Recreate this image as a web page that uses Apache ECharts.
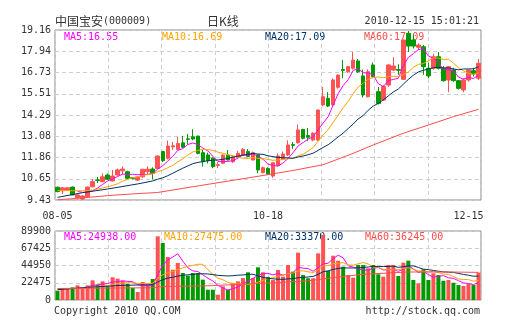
<!DOCTYPE html>
<html><head><meta charset="utf-8">
<script src="https://cdn.jsdelivr.net/npm/echarts@6/dist/echarts.min.js"></script>
<style>html,body{margin:0;padding:0;background:#fff;}#c{width:505px;height:330px;}</style>
</head><body><div id="c"></div>
<script>
const dates = ['08-05','08-06','08-09','08-10','08-11','08-12','08-13','08-16','08-17','08-18','08-19','08-20','08-23','08-24','08-25','08-26','08-27','08-30','08-31',
'09-01','09-02','09-03','09-06','09-07','09-08','09-09','09-10','09-13','09-14','09-15','09-16','09-17','09-27','09-28','09-29','09-30',
'10-08','10-11','10-12','10-13','10-14','10-15','10-18','10-19','10-20','10-21','10-22','10-25','10-26','10-27','10-28','10-29',
'11-01','11-02','11-03','11-04','11-05','11-08','11-09','11-10','11-11','11-12','11-15','11-16','11-17','11-18','11-19','11-22','11-23','11-24','11-25','11-26','11-29','11-30',
'12-01','12-02','12-03','12-06','12-07','12-08','12-09','12-10','12-13','12-14','12-15'];

const opens = [10.16,9.96,10.00,10.17,9.56,9.49,9.62,10.19,10.58,10.48,
10.86,10.52,10.86,11.10,11.05,10.70,10.57,10.76,11.05,11.20,
11.24,12.20,11.82,12.47,12.33,12.70,12.93,13.05,13.09,12.14,
12.01,11.82,11.41,11.53,12.00,11.62,11.87,12.00,12.20,11.72,
12.01,11.00,11.24,10.80,11.40,11.78,12.01,12.60,12.71,13.47,
13.12,12.86,12.86,14.87,15.25,14.87,15.88,16.90,16.77,16.97,
17.39,16.53,15.34,17.16,15.63,15.15,16.01,16.87,16.90,16.34,
18.97,18.59,18.17,18.20,16.97,16.97,17.63,16.97,16.30,16.87,
16.26,15.73,16.30,16.83,16.40];
const closes = [9.91,10.13,10.13,9.72,9.72,9.66,10.17,10.48,10.55,10.76,
10.62,10.80,11.15,11.20,10.67,10.67,10.73,11.19,11.19,10.96,
11.95,11.68,12.52,12.53,12.67,12.45,12.90,12.92,12.10,11.62,
11.68,11.34,11.45,12.00,11.72,11.90,12.10,12.33,11.92,12.14,
11.15,11.28,10.92,11.56,11.95,12.06,12.58,12.56,13.44,12.96,
13.02,13.25,14.58,15.34,14.81,16.30,16.58,16.85,17.06,17.44,
16.77,15.44,16.77,16.49,14.96,15.92,17.16,17.10,16.85,18.59,
18.24,18.24,18.30,17.06,16.53,17.63,16.97,16.26,17.06,16.26,
15.82,16.30,16.87,16.64,17.25];
const lows = [9.88,9.77,9.97,9.70,9.46,9.43,9.55,10.15,10.40,10.45,
10.60,10.50,10.83,10.90,10.62,10.60,10.52,10.70,10.90,10.60,
11.20,11.60,11.75,12.30,12.30,12.40,12.60,12.85,12.05,11.34,
11.52,11.25,11.25,11.50,11.70,11.55,11.80,11.95,11.90,11.70,
10.96,10.95,10.87,10.70,11.35,11.75,11.95,12.35,12.65,12.90,
12.80,12.80,12.80,14.80,14.75,14.80,15.80,16.40,16.70,16.90,
16.70,15.30,15.30,16.40,14.90,15.10,15.90,16.80,16.60,16.30,
17.90,18.10,18.00,16.60,16.40,16.90,16.90,16.20,15.60,16.20,
15.75,15.60,16.20,16.50,16.30];
const highs = [10.20,10.16,10.17,10.20,9.75,9.70,10.20,10.63,10.75,10.95,
10.95,11.15,11.23,11.35,11.10,10.72,10.78,11.20,11.35,11.30,
11.97,12.25,12.83,12.75,13.05,13.10,13.20,13.48,13.10,12.30,
12.14,11.90,11.60,12.05,12.29,12.00,12.25,12.40,12.35,12.20,
12.05,11.35,11.30,11.58,12.10,12.20,12.85,12.75,13.75,13.50,
13.55,13.30,14.60,15.90,15.60,16.40,16.60,17.45,17.10,17.90,
17.50,16.90,16.90,17.30,15.90,16.00,17.20,17.60,17.20,18.60,
19.10,18.90,18.40,18.30,17.30,17.80,17.90,17.10,17.10,17.00,
16.30,16.40,16.90,17.00,17.50];

const volumes = [12100,15600,14300,16500,19100,14800,19100,25600,20000,24300,
17800,29600,27800,25200,20900,15600,10400,23500,20000,27400,
83000,74300,56000,39500,48200,35200,31700,35200,35200,26500,
13400,13400,6900,17800,13400,22100,24300,28700,36100,28700,
42600,36100,30000,26000,39100,30400,45600,36900,61600,32600,
28300,28300,60800,84700,37800,57700,51200,43400,32600,29100,
45600,45600,41300,45600,33500,30400,45600,45600,31300,48600,
51200,26100,21800,40000,26100,34800,32600,25100,26100,22500,
19500,18200,20800,19500,35600];

const ma5 = [null,null,null,null,9.92,9.87,9.88,9.95,10.12,10.32,10.52,10.64,10.78,10.91,10.89,10.90,10.88,10.89,10.89,10.95,
11.20,11.39,11.66,11.93,12.27,12.37,12.61,12.69,12.61,12.40,12.24,11.93,11.64,11.62,11.64,11.68,11.83,12.01,11.99,12.08,
11.93,11.76,11.48,11.41,11.37,11.55,11.81,12.14,12.52,12.72,12.91,13.05,13.45,13.83,14.20,14.86,15.52,15.98,16.32,16.85,
16.94,16.71,16.70,16.58,16.09,15.92,16.26,16.33,16.40,17.12,17.59,17.80,18.04,18.09,17.67,17.55,17.30,16.89,16.89,16.84,
16.47,16.34,16.46,16.38,16.58];
const ma10 = [9.97,9.97,9.97,9.96,9.96,9.96,9.97,10.00,10.05,10.12,10.19,10.26,10.36,10.51,10.61,10.71,10.76,10.83,10.90,10.92,
11.05,11.14,11.28,11.41,11.61,11.79,12.00,12.18,12.27,12.33,12.31,12.27,12.17,12.11,12.02,11.96,11.88,11.82,11.81,11.86,
11.81,11.80,11.75,11.70,11.73,11.74,11.79,11.81,11.96,12.05,12.23,12.43,12.80,13.17,13.46,13.88,14.28,14.71,15.08,15.52,
15.90,16.12,16.34,16.45,16.47,16.43,16.49,16.51,16.49,16.61,16.75,17.03,17.19,17.24,17.40,17.57,17.55,17.47,17.49,17.26,
17.01,16.82,16.68,16.63,16.71];
const ma20 = [9.58,null,null,null,null,9.85,null,null,null,null,10.06,null,null,null,null,null,10.35,null,null,10.52,
10.62,10.70,10.82,10.96,11.11,11.25,11.38,11.51,11.58,11.63,11.68,11.71,11.72,11.76,11.81,11.88,11.94,12.00,12.04,12.10,
12.06,12.04,11.96,11.91,11.87,11.85,11.84,11.82,11.89,11.95,12.02,12.11,12.27,12.44,12.59,12.81,13.04,13.26,13.52,13.78,
14.07,14.27,14.57,14.81,14.96,15.16,15.39,15.61,15.78,16.06,16.33,16.57,16.76,16.85,16.93,17.00,17.02,16.99,16.99,16.93,
16.88,16.93,16.93,16.94,17.05];
const ma60 = [[0,9.44],[5,9.55],[10,9.68],[15,9.78],[20,9.86],[27,10.19],[36,10.60],[42,10.88],[47,11.12],[53,11.45],
[59,12.10],[63,12.58],[69,13.25],[74,13.72],[79,14.20],[84,14.62]];

const vma5 = [null,null,null,null,15520,16060,16760,19020,19720,20760,21360,23460,23900,24940,24260,23820,19980,19120,18080,19380,
32860,45640,52140,56040,60200,50640,42120,37960,37100,32760,28400,24740,19080,15600,12980,14720,16900,21260,24920,27980,
32080,34440,34700,32680,34760,32320,34220,35600,42720,41420,41000,37540,42320,46940,47980,53860,58440,54960,44540,42800,
40380,39260,38840,41440,42320,39280,39280,40140,37280,40300,44460,40560,35800,37540,33040,29760,31060,31720,28940,28220,
25160,22280,21420,20100,22720];
const vma10 = [14300,null,null,null,null,15600,null,null,null,18140,18710,20110,21460,22330,22510,22590,21720,21510,21510,21820,
28340,32810,35630,37060,39790,41750,43880,45050,46570,46480,39520,33430,28520,26350,22870,21560,20820,20170,20260,20480,
23400,25670,27980,28800,31370,32200,34330,35150,37700,38090,36660,35880,38960,44830,44700,47430,47990,48640,45740,45390,
47120,48850,46900,42990,42560,39830,39270,39490,39360,41310,41870,39920,37970,37410,36670,37110,35810,33760,33240,30630,
27460,26670,26570,24520,25470];
const vma20 = [13400,null,null,null,null,null,16500,null,null,null,null,null,null,19100,null,null,null,null,null,19980,
23525,26460,28545,29695,31150,32170,32800,33280,34040,34150,33930,33120,32075,31705,31330,31655,32350,32610,33415,33480,
31460,29550,28250,27575,27120,26880,27575,27660,28980,29285,30030,30775,33470,36815,38035,39815,41160,41895,41720,41740,
41890,42365,42930,43910,43630,43630,43630,44065,42550,43350,44495,44385,42435,40200,39615,38470,37540,36625,36300,35970,
34665,33295,32270,30965,31070];
const vma60 = [[0,15000],[19,16000],[21,17500],[30,18500],[42,22000],[50,25000],[56,30000],[61,33500],[70,36500],[78,36500],[84,36000]];

const priceTicks = ['9.43','10.65','11.86','13.08','14.29','15.51','16.73','17.94','19.16'];
const volTicks = ['0','22475','44950','67425','89900'];
const xLabelIdx = [0, 42, 84];

const RED = '#ff5252', GREEN = '#009900';
const C5 = '#ff00ff', C10 = '#ffa200', C20 = '#003366', C60 = '#ff4c4c';
const MONO = '"DejaVu Sans Mono","Liberation Mono",monospace';
const CJK = '"Noto Sans CJK SC",sans-serif';
const TXT = '#333';

const ohlc = opens.map((o, i) => [o, closes[i], lows[i], highs[i]]);
const volData = volumes.map((v, i) => ({ value: v, itemStyle: { color: closes[i] >= opens[i] ? RED : GREEN } }));

const dash = { show: true, lineStyle: { color: '#cfcfcf', type: [4, 3], width: 1 } };
const noAxis = { axisLine: { show: false }, axisTick: { show: false } };

function line(name, data, color, xi, yi) {
  return { name, type: 'line', data, xAxisIndex: xi, yAxisIndex: yi, symbol: 'none', showSymbol: false,
    connectNulls: true, z: 3, lineStyle: { color, width: 1 }, itemStyle: { color }, silent: true };
}
function label(x, y, text, color, align, font) {
  return { type: 'text', x, y, z: 0, silent: true,
    style: { text, fill: color, align: align || 'left', verticalAlign: 'middle', font: font || ('10px ' + MONO) } };
}

const chart = echarts.init(document.getElementById('c'), null, { renderer: 'canvas' });
chart.setOption({
  animation: false,
  backgroundColor: '#fff',
  grid: [
    { left: 55, top: 30, width: 426, height: 170, show: true, borderColor: '#888', borderWidth: 1, outerBoundsMode: 'none' },
    { left: 55, top: 231, width: 426, height: 69, show: true, borderColor: '#888', borderWidth: 1, outerBoundsMode: 'none' }
  ],
  xAxis: [
    { type: 'category', gridIndex: 0, data: dates, boundaryGap: true, ...noAxis, splitLine: { show: false },
      axisLabel: { interval: (i) => xLabelIdx.indexOf(i) >= 0, margin: 11, color: TXT, fontFamily: MONO, fontSize: 10,
        formatter: (v, i) => i === xLabelIdx[2] ? '{r|' + v + '}' : v,
        rich: { r: { padding: [0, 20, 0, 0], color: TXT, fontFamily: MONO, fontSize: 10 } } } },
    { type: 'value', gridIndex: 0, min: 0, max: 8, interval: 1, position: 'top', ...noAxis, axisLabel: { show: false }, splitLine: dash },
    { type: 'category', gridIndex: 1, data: dates, boundaryGap: true, ...noAxis, axisLabel: { show: false }, splitLine: { show: false } },
    { type: 'value', gridIndex: 1, min: 0, max: 8, interval: 1, position: 'top', ...noAxis, axisLabel: { show: false }, splitLine: dash }
  ],
  yAxis: [
    { type: 'value', gridIndex: 0, position: 'right', min: parseFloat(priceTicks[0]), max: parseFloat(priceTicks[priceTicks.length - 1]), show: false },
    { type: 'value', gridIndex: 0, position: 'left', min: 0, max: priceTicks.length - 1, interval: 1, ...noAxis, splitLine: dash,
      axisLabel: { margin: 4, color: TXT, fontFamily: MONO, fontSize: 10, formatter: (v) => priceTicks[Math.round(v)] } },
    { type: 'value', gridIndex: 1, position: 'left', min: 0, max: parseFloat(volTicks[volTicks.length - 1]), interval: parseFloat(volTicks[1]), ...noAxis, splitLine: dash,
      axisLabel: { margin: 4, color: TXT, fontFamily: MONO, fontSize: 10, formatter: (v) => volTicks[Math.round(v / parseFloat(volTicks[1]))] } }
  ],
  series: [
    { type: 'candlestick', xAxisIndex: 0, yAxisIndex: 0, data: ohlc, barWidth: 4, z: 2,
      itemStyle: { color: RED, color0: GREEN, borderColor: RED, borderColor0: GREEN, borderWidth: 1 } },
    line('MA5', ma5, C5, 0, 0), line('MA10', ma10, C10, 0, 0), line('MA20', ma20, C20, 0, 0), line('MA60', ma60, C60, 0, 0),
    { type: 'bar', xAxisIndex: 2, yAxisIndex: 2, data: volData, barWidth: 4, z: 2 },
    line('VMA5', vma5, C5, 2, 2), line('VMA10', vma10, C10, 2, 2), line('VMA20', vma20, C20, 2, 2), line('VMA60', vma60, C60, 2, 2)
  ],
  graphic: [
    { type: 'text', x: 55, y: 21, silent: true, style: { text: '{a|中国宝安}{b|(000009)}', fill: TXT, verticalAlign: 'middle',
      rich: { a: { fontFamily: CJK, fontSize: 12, fill: TXT }, b: { fontFamily: MONO, fontSize: 10, fill: TXT } } } },
    label(207, 21, '日K线', TXT, 'left', '12px ' + CJK),
    label(479, 21, '2010-12-15 15:01:21', TXT, 'right'),
    label(64, 37, 'MA5:16.55', C5), label(162, 37, 'MA10:16.69', C10), label(265, 37, 'MA20:17.09', C20), label(364, 37, 'MA60:17.09', C60),
    label(64, 237, 'MA5:24938.00', C5), label(164, 237, 'MA10:27475.00', C10), label(265, 237, 'MA20:33370.00', C20), label(365, 237, 'MA60:36245.00', C60),
    label(54, 311, 'Copyright 2010 QQ.COM', TXT), label(480, 311, 'http://stock.qq.com', TXT, 'right')
  ]
});
</script></body></html>
